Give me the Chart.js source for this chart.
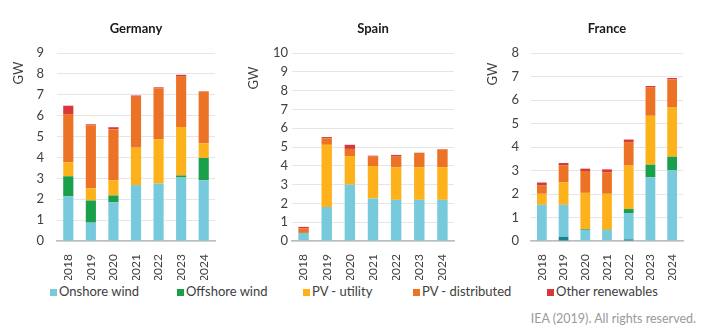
<!DOCTYPE html>
<html>
<head>
<meta charset="utf-8">
<script src="https://cdn.jsdelivr.net/npm/chart.js@4.4.1/dist/chart.umd.min.js"></script>
<style>
  body { margin: 0; background: #fff; font-family: Lato, sans-serif; }
  #wrap { position: relative; width: 720px; height: 336px; overflow: hidden; }
  .panel { position: absolute; top: 0; height: 280px; }
  .legend-item { position: absolute; top: 283px; font-size: 13px; color: #404040; line-height: 17px; white-space: nowrap; }
  .legend-item i { display: inline-block; width: 7px; height: 7px; margin-right: 2px; vertical-align: 0px; }
  #source { position: absolute; right: 24px; top: 311px; font-size: 12.5px; color: #9a9a9a; }
</style>
</head>
<body>
<div id="wrap">
  <div class="panel" style="left:0;width:230px"><canvas id="deChart"></canvas></div>
  <div class="panel" style="left:240px;width:230px"><canvas id="esChart"></canvas></div>
  <div class="panel" style="left:480px;width:225px"><canvas id="frChart"></canvas></div>
  <div id="legend"></div>
  <div id="source">IEA (2019). All rights reserved.</div>
</div>
<script>
const years = ["2018", "2019", "2020", "2021", "2022", "2023", "2024"];

const seriesNames = ["Onshore wind", "Offshore wind", "PV - utility", "PV - distributed", "Other renewables"];
const seriesColors = ["#77c9dc", "#1aa04a", "#fdb21c", "#ec7225", "#d7383b"];
const baseColor = "#1a7e95";

// Germany, GW
const deOnshore = [2.15, 0.88, 1.85, 2.68, 2.75, 3.04, 2.91];
const deOffshore = [0.95, 1.06, 0.33, 0, 0, 0.1, 1.07];
const deUtility = [0.67, 0.58, 0.73, 1.79, 2.12, 2.32, 0.7];
const deDistributed = [2.31, 3.02, 2.44, 2.44, 2.44, 2.41, 2.47];
const deOther = [0.4, 0.05, 0.1, 0.06, 0.05, 0.09, 0.02];

// Spain, GW
const esOnshore = [0.43, 1.81, 3.0, 2.26, 2.19, 2.19, 2.19];
const esOffshore = [0, 0, 0, 0, 0, 0, 0];
const esUtility = [0, 3.31, 1.52, 1.73, 1.74, 1.74, 1.74];
const esDistributed = [0.25, 0.34, 0.38, 0.5, 0.56, 0.76, 0.92];
const esOther = [0.07, 0.07, 0.22, 0.05, 0.09, 0.01, 0.03];

// France, GW (darker base segment under onshore in 2019 and 2022)
const frBase = [0, 0.18, 0, 0, 0.07, 0, 0];
const frOnshore = [1.54, 1.36, 0.47, 0.45, 1.12, 2.71, 3.02];
const frOffshore = [0, 0, 0.03, 0.03, 0.17, 0.54, 0.57];
const frUtility = [0.47, 0.95, 1.55, 1.53, 1.85, 2.08, 2.09];
const frDistributed = [0.35, 0.72, 0.93, 0.92, 1.0, 1.2, 1.2];
const frOther = [0.13, 0.11, 0.1, 0.12, 0.11, 0.07, 0.06];

const yMax = { de: 9, es: 10, fr: 8 };

// draws the rotated "GW" unit near the top of the value axis
const unitLabel = {
  id: "unitLabel",
  defaults: { drop: 21 },
  afterDraw(chart, args, opts) {
    const { ctx, chartArea } = chart;
    ctx.save();
    ctx.translate(chartArea.left - 38, chartArea.top + opts.drop);
    ctx.rotate(-Math.PI / 2);
    ctx.font = "13px Lato";
    ctx.fillStyle = "#404040";
    ctx.textAlign = "center";
    ctx.textBaseline = "middle";
    ctx.fillText("GW", 0, 0);
    ctx.restore();
  },
};

function makeDatasets(series, base) {
  const sets = [];
  if (base) {
    sets.push({ label: "base", data: base, backgroundColor: baseColor });
  }
  series.forEach((values, i) => {
    sets.push({ label: seriesNames[i], data: values, backgroundColor: seriesColors[i] });
  });
  return sets;
}

function makeChart(id, title, series, max, axisWidth, tickPad, rightPad, unitDrop, base) {
  return new Chart(document.getElementById(id), {
    type: "bar",
    data: { labels: years, datasets: makeDatasets(series, base) },
    options: {
      responsive: true,
      maintainAspectRatio: false,
      animation: false,
      layout: { padding: { left: 0, right: rightPad, top: 0, bottom: 0 } },
      datasets: { bar: { barPercentage: 0.45, categoryPercentage: 1 } },
      plugins: {
        legend: { display: false },
        tooltip: { enabled: false },
        unitLabel: { drop: unitDrop },
        title: {
          display: true,
          text: title,
          fullSize: false,
          color: "#1a1a1a",
          font: { family: "Lato", size: 13, weight: "bold" },
          padding: { top: 21, bottom: 16.5 },
        },
      },
      scales: {
        x: {
          stacked: true,
          grid: { display: false },
          border: { display: true, color: "#bdbdbd", width: 1.5 },
          ticks: {
            color: "#404040",
            font: { family: "Lato", size: 12 },
            minRotation: 90,
            maxRotation: 90,
            padding: 5,
          },
          afterFit: (scale) => { scale.height = 39; },
        },
        y: {
          stacked: true,
          min: 0,
          max: max,
          grid: { color: "#e6e6e6", drawTicks: false },
          border: { display: false },
          ticks: {
            stepSize: 1,
            color: "#404040",
            font: { family: "Lato", size: 13 },
            padding: tickPad,
          },
          afterFit: (scale) => { scale.width = axisWidth; },
        },
      },
    },
    plugins: [unitLabel],
  });
}

makeChart("deChart", "Germany", [deOnshore, deOffshore, deUtility, deDistributed, deOther], yMax.de, 57, 13, 15, 20);
makeChart("esChart", "Spain", [esOnshore, esOffshore, esUtility, esDistributed, esOther], yMax.es, 52, 4, 16, 25);
makeChart("frChart", "France", [frOnshore, frOffshore, frUtility, frDistributed, frOther], yMax.fr, 51, 12, 22, 21, frBase);

// legend row under the panels
const legendX = [50, 177, 303, 413, 547];
const legend = document.getElementById("legend");
seriesNames.forEach((name, i) => {
  const item = document.createElement("div");
  item.className = "legend-item";
  item.style.left = legendX[i] + "px";
  item.innerHTML = `<i style="background:${seriesColors[i]}"></i>${name}`;
  legend.appendChild(item);
});
</script>
</body>
</html>
